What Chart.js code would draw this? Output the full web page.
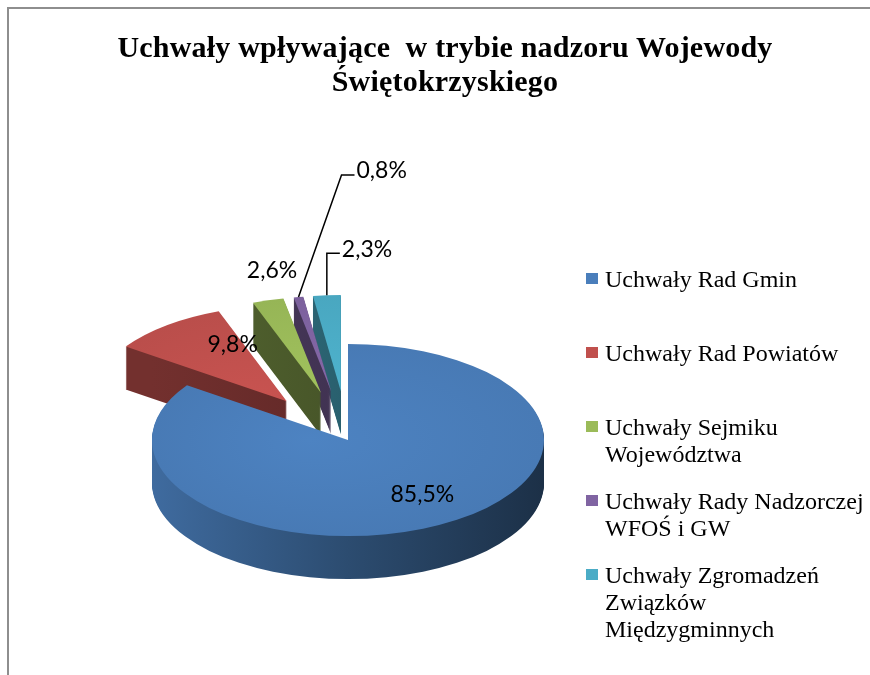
<!DOCTYPE html>
<html>
<head>
<meta charset="utf-8">
<script src="https://cdn.jsdelivr.net/npm/chart.js@4"></script>
<style>
  body { margin: 0; background: #fff; overflow: hidden; }
  #wrap { position: relative; width: 870px; height: 675px; overflow: hidden; }
  #frame { position: absolute; left: 7px; top: 7px; width: 1000px; height: 1000px;
           border-top: 2px solid #8e8e8e; border-left: 2px solid #8e8e8e; }
  #title { position: absolute; left: 0; top: 30px; width: 890px; text-align: center; white-space: pre;
           font: bold 30px "Liberation Serif", serif; line-height: 34px; letter-spacing: 0.2px; color: #000; }
  #myChart { position: absolute; left: 0; top: 0; }
  #legend { position: absolute; left: 586px; top: 266px; }
  .item { position: absolute; left: 0; white-space: nowrap; }
  .box { position: absolute; left: 0; top: 7px; width: 12px; height: 11px; }
  .txt { position: absolute; left: 19px; top: 0; font: 24px "Liberation Serif", serif; line-height: 27px; color: #000; }
</style>
</head>
<body>
<div id="wrap">
  <div id="frame"></div>
  <canvas id="myChart" width="870" height="675"></canvas>
  <div id="title">Uchwały wpływające  w trybie nadzoru Wojewody
Świętokrzyskiego</div>
  <div id="legend"></div>
</div>
<script>
// data
var categories = [
    ["Uchwały Rad Gmin"],
    ["Uchwały Rad Powiatów"],
    ["Uchwały Sejmiku", "Województwa"],
    ["Uchwały Rady Nadzorczej", "WFOŚ i GW"],
    ["Uchwały Zgromadzeń", "Związków", "Międzygminnych"]
];
var shares = [85.5, 9.8, 2.6, 0.8, 2.3];

// look
var colors = ['#4a7ebb', '#c0504d', '#9bbb59', '#8064a2', '#4bacc6'];
var sideTone = [[0.85, 0.6, 0.38], [0.6, 0.5, 0.4], [0.55, 0.45, 0.35], [0.6, 0.5, 0.4], [0.7, 0.55, 0.45]];
var explode = [0, 100, 100, 100, 100];
var center = {x: 348, y: 440};   // where the pie sits on the page
var tilt = 0.49;                 // vertical squash of the top face
var depth = 43;                  // height of the side wall
var labelPos = [
    {r: 0.62, dx: 18, dy: 2},
    {r: 0.55, dx: 12, dy: -15},
    {r: 1, dx: 4, dy: -30},
    {r: 1, elbow: [43, -122]},
    {r: 1, elbow: [0, -42]}
];

function shade(hex, f){
    var n = parseInt(hex.slice(1), 16);
    var r = Math.min(255, Math.round(((n >> 16) & 255) * f));
    var g = Math.min(255, Math.round(((n >> 8) & 255) * f));
    var b = Math.min(255, Math.round((n & 255) * f));
    return 'rgb(' + r + ',' + g + ',' + b + ')';
}

function pct(v){
    return v.toFixed(1).replace('.', ',') + '%';
}

// slice geometry from the chart's own arcs
function slices(chart){
    var arcs = chart.getDatasetMeta(0).data;
    return arcs.map(function(a, i){
        var p = a.getProps(['x', 'y', 'startAngle', 'endAngle', 'outerRadius'], true);
        var mid = (p.startAngle + p.endAngle) / 2;
        var off = a.options.offset || 0;
        return {
            i: i, cx: p.x, cy: p.y, r: p.outerRadius, s: p.startAngle, e: p.endAngle, mid: mid,
            ax: p.x + Math.cos(mid) * off, ay: p.y + Math.sin(mid) * off
        };
    });
}

function toPage(g, x, y){
    return [center.x + (x - g.cx), center.y + (y - g.cy) * tilt];
}

function slicePath(ctx, g, shift){
    ctx.beginPath();
    ctx.moveTo(g.ax, g.ay + shift);
    ctx.arc(g.ax, g.ay + shift, g.r, g.s, g.e);
    ctx.closePath();
}

var pie3d = {
    id: 'pie3d',
    beforeDatasetsDraw: function(chart){
        var ctx = chart.ctx;
        var geo = slices(chart);
        if (!geo.length) return false;
        var c0 = geo[0];
        ctx.save();
        ctx.translate(center.x - c0.cx, center.y - c0.cy * tilt);
        ctx.scale(1, tilt);
        var order = geo.slice().sort(function(a, b){ return a.ay - b.ay; });
        // side walls
        order.forEach(function(g){
            var t = sideTone[g.i];
            var grad = ctx.createLinearGradient(g.cx - g.r, 0, g.cx + g.r, 0);
            grad.addColorStop(0, shade(colors[g.i], t[0]));
            grad.addColorStop(0.5, shade(colors[g.i], t[1]));
            grad.addColorStop(1, shade(colors[g.i], t[2]));
            ctx.fillStyle = grad;
            for (var d = depth; d >= 1; d--) {
                slicePath(ctx, g, d / tilt);
                ctx.fill();
            }
        });
        // top faces
        order.forEach(function(g){
            var grad = ctx.createRadialGradient(g.ax - g.r * 0.2, g.ay, 0, g.ax, g.ay, g.r);
            grad.addColorStop(0, shade(colors[g.i], 1.04));
            grad.addColorStop(1, shade(colors[g.i], 0.97));
            ctx.fillStyle = grad;
            slicePath(ctx, g, 0);
            ctx.fill();
        });
        ctx.restore();

        // labels
        ctx.save();
        ctx.font = '23px Lato, "Open Sans", sans-serif';
        ctx.fillStyle = '#000';
        ctx.strokeStyle = '#000';
        ctx.lineWidth = 1.5;
        ctx.textBaseline = 'middle';
        geo.forEach(function(g){
            var lp = labelPos[g.i];
            var p = toPage(g, g.ax + Math.cos(g.mid) * g.r * lp.r, g.ay + Math.sin(g.mid) * g.r * lp.r);
            var txt = pct(chart.data.datasets[0].data[g.i]);
            if (lp.elbow) {
                var ex = p[0] + lp.elbow[0], ey = p[1] + lp.elbow[1];
                ctx.beginPath();
                ctx.moveTo(p[0], p[1]);
                ctx.lineTo(ex, ey);
                ctx.lineTo(ex + 13, ey);
                ctx.stroke();
                ctx.textAlign = 'left';
                ctx.fillText(txt, ex + 15, ey - 4);
            } else {
                ctx.textAlign = 'center';
                ctx.fillText(txt, p[0] + lp.dx, p[1] + lp.dy);
            }
        });
        ctx.restore();
        return false;
    }
};

var ctx = document.getElementById('myChart').getContext('2d');
var chart = new Chart(ctx, {
    type: 'pie',
    data: {
        labels: categories,
        datasets: [{
            data: shares,
            backgroundColor: colors,
            offset: explode,
            borderWidth: 0,
            radius: 196,
            clip: false
        }]
    },
    options: {
        responsive: false,
        animation: false,
        events: [],
        plugins: {
            legend: { display: false },
            tooltip: { enabled: false },
            title: { display: false }
        }
    },
    plugins: [pie3d]
});

// legend
var legend = document.getElementById('legend');
categories.forEach(function(lines, i){
    var item = document.createElement('div');
    item.className = 'item';
    item.style.top = (i * 74) + 'px';
    var box = document.createElement('div');
    box.className = 'box';
    box.style.background = colors[i];
    var txt = document.createElement('div');
    txt.className = 'txt';
    txt.innerHTML = lines.join('<br>');
    item.appendChild(box);
    item.appendChild(txt);
    legend.appendChild(item);
});
</script>
</body>
</html>
